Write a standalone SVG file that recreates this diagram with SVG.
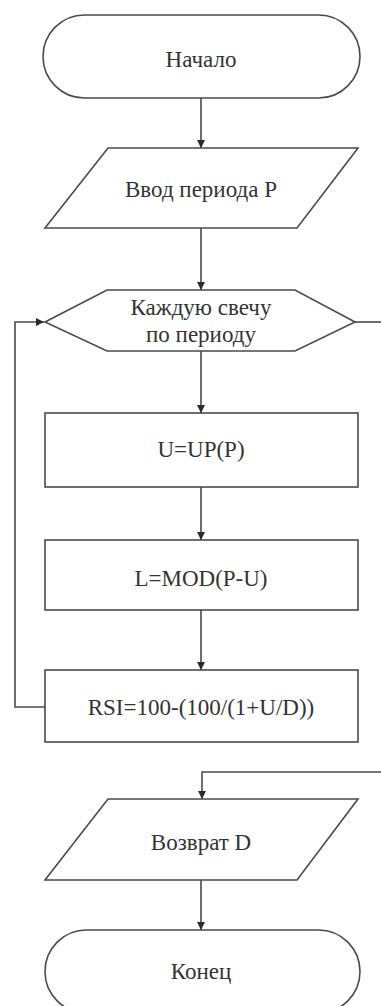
<svg xmlns="http://www.w3.org/2000/svg" width="381" height="1006" viewBox="0 0 381 1006">
  <style>
    .shape { fill: #ffffff; stroke: #4a4a4a; stroke-width: 1.6; }
    .edge { fill: none; stroke: #4a4a4a; stroke-width: 1.6; }
    .label { font-family: 'Liberation Serif', 'DejaVu Serif', serif; font-size: 23px; fill: #333333; text-anchor: middle; }
  </style>
  <defs>
    <marker id="arrow" viewBox="0 0 8 10" refX="8" refY="5" markerWidth="8" markerHeight="10" markerUnits="userSpaceOnUse" orient="auto">
      <path d="M0,1 L8,5 L0,9 Z" fill="#2a2a2a"/>
    </marker>
  </defs>
  <rect width="381" height="1006" fill="#ffffff"/>

  <g id="connectors">
    <line class="edge" x1="201" y1="98" x2="201" y2="148" marker-end="url(#arrow)"/>
    <line class="edge" x1="201" y1="228" x2="201" y2="290" marker-end="url(#arrow)"/>
    <line class="edge" x1="201" y1="351" x2="201" y2="413" marker-end="url(#arrow)"/>
    <line class="edge" x1="201" y1="487" x2="201" y2="540" marker-end="url(#arrow)"/>
    <line class="edge" x1="201" y1="610" x2="201" y2="670" marker-end="url(#arrow)"/>
    <line class="edge" x1="201" y1="880" x2="201" y2="930" marker-end="url(#arrow)"/>
    <!-- loop back from RSI to the loop header -->
    <polyline class="edge" points="45,707 15,707 15,322 44,322" marker-end="url(#arrow)"/>
    <!-- loop exit to the return block -->
    <line class="edge" x1="355" y1="322" x2="381" y2="322"/>
    <polyline class="edge" points="381,772 202,772 202,799" marker-end="url(#arrow)"/>
  </g>

  <g id="start">
    <rect class="shape" x="43" y="15" width="317" height="83" rx="41.5" ry="41.5"/>
    <text class="label" x="201" y="67">Начало</text>
  </g>

  <g id="input">
    <polygon class="shape" points="108,148 358,148 297,228 45,228"/>
    <text class="label" x="201" y="197">Ввод периода P</text>
  </g>

  <g id="loop">
    <polygon class="shape" points="107,290 295,290 355,322 295,351 107,351 45,322"/>
    <text class="label" x="201" y="315">Каждую свечу</text>
    <text class="label" x="201" y="342">по периоду</text>
  </g>

  <g id="up">
    <rect class="shape" x="45" y="413" width="313" height="74"/>
    <text class="label" x="201" y="457">U=UP(P)</text>
  </g>

  <g id="mod">
    <rect class="shape" x="45" y="540" width="313" height="70"/>
    <text class="label" x="201" y="586">L=MOD(P-U)</text>
  </g>

  <g id="rsi">
    <rect class="shape" x="45" y="670" width="313" height="72"/>
    <text class="label" x="201" y="715">RSI=100-(100/(1+U/D))</text>
  </g>

  <g id="output">
    <polygon class="shape" points="108,799 358,799 297,880 45,880"/>
    <text class="label" x="201" y="850">Возврат D</text>
  </g>

  <g id="end">
    <rect class="shape" x="45" y="930" width="315" height="83" rx="41.5" ry="41.5"/>
    <text class="label" x="201" y="979">Конец</text>
  </g>
</svg>
